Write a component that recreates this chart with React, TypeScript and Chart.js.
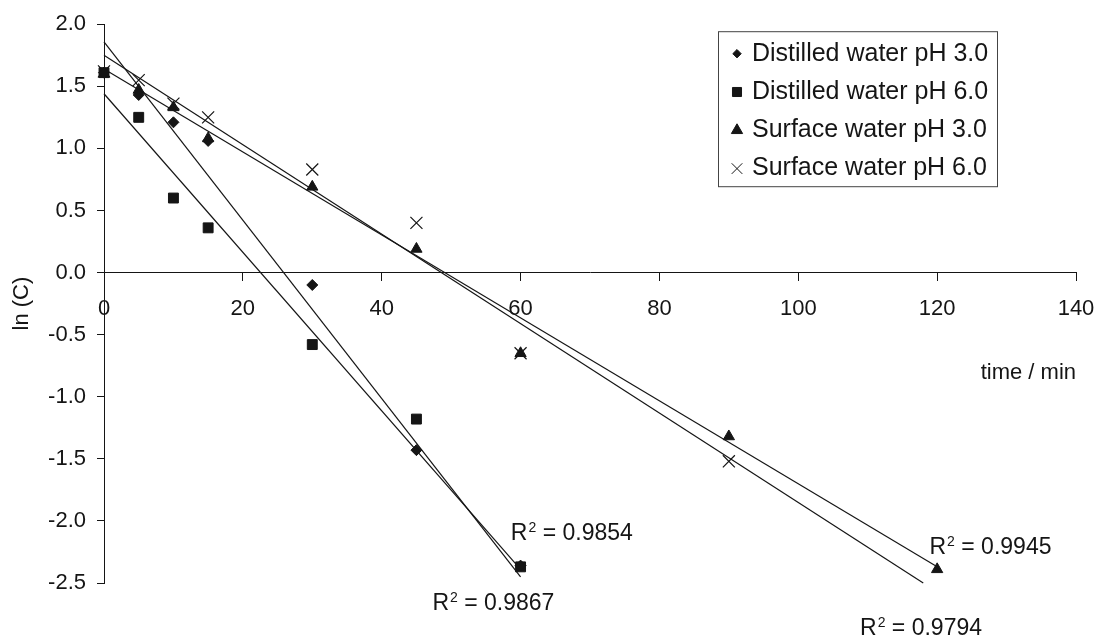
import React, { useEffect, useRef } from 'react';
import { Chart, registerables } from 'chart.js';
import type { ChartConfiguration, Plugin, PointStyle } from 'chart.js';
import { drawPoint } from 'chart.js/helpers';

Chart.register(...registerables);

const INK = '#151515';
const FONT = '"Liberation Sans", Arial, Helvetica, sans-serif';

// sampling times (min) and ln(C)
const timeMin = [0, 5, 10, 15, 30, 45, 60, 90, 120];
const distilledPh3 = [1.61, 1.43, 1.21, 1.06, -0.1, -1.43, -2.36, null, null];
const distilledPh6 = [1.61, 1.25, 0.6, 0.36, -0.58, -1.18, -2.37, null, null];
const surfacePh3 = [1.6, 1.47, 1.33, 1.08, 0.69, 0.19, -0.65, -1.32, -2.39];
const surfacePh6 = [1.62, 1.55, 1.36, 1.25, 0.83, 0.4, -0.65, -1.52, null];

const seriesNames = [
  'Distilled water pH 3.0',
  'Distilled water pH 6.0',
  'Surface water pH 3.0',
  'Surface water pH 6.0',
];
const seriesValues = [distilledPh3, distilledPh6, surfacePh3, surfacePh6];

// linear trend lines as drawn in the figure (start at t = 0)
const trendStartY = [1.857, 1.44, 1.64, 1.75];
const trendEndX = [60, 60, 120, 118];
const trendEndY = [-2.45, -2.39, -2.37, -2.5];
const rSquared = ['0.9854', '0.9867', '0.9945', '0.9794'];

// axis ranges
const xMin = 0;
const xMax = 140;
const xStep = 20;
const yMin = -2.5;
const yMax = 2.0;
const yStep = 0.5;

// marker look
const pointStyles: PointStyle[] = ['rectRot', 'rect', 'triangle', 'crossRot'];
const plotRadius = [5.5, 7, 6.5, 8.5];
const legendRadius = [4.2, 6.4, 6.5, 7.5];

// where the R² notes sit (data units, text baseline)
const noteX = [58.6, 47.3, 118.9, 108.9];
const noteY = [-2.153, -2.715, -2.263, -2.922];

const boxLegend: Plugin<'scatter'> = {
  id: 'boxLegend',
  afterDraw(chart) {
    const { ctx, chartArea } = chart;
    const left = chartArea.right - 357.5;
    const top = chartArea.top + 7.5;
    ctx.save();
    ctx.fillStyle = '#fff';
    ctx.fillRect(left, top, 279, 155);
    ctx.strokeStyle = '#444';
    ctx.lineWidth = 1;
    ctx.strokeRect(left, top, 279, 155);
    ctx.font = `25px ${FONT}`;
    ctx.textBaseline = 'middle';
    ctx.textAlign = 'left';
    seriesNames.forEach((name, i) => {
      const y = top + 22 + i * 38.3;
      ctx.fillStyle = INK;
      ctx.strokeStyle = INK;
      ctx.lineWidth = 1;
      drawPoint(ctx, { pointStyle: pointStyles[i], rotation: 0, radius: legendRadius[i], borderWidth: 1 }, left + 18.5, y);
      ctx.fillStyle = INK;
      ctx.fillText(name, left + 33.5, y);
    });
    ctx.restore();
  },
};

const r2Notes: Plugin<'scatter'> = {
  id: 'r2Notes',
  afterDatasetsDraw(chart) {
    const { ctx } = chart;
    const xs = chart.scales.x;
    const ys = chart.scales.y;
    ctx.save();
    ctx.fillStyle = INK;
    ctx.textBaseline = 'alphabetic';
    ctx.textAlign = 'left';
    rSquared.forEach((val, i) => {
      let px = xs.getPixelForValue(noteX[i]);
      const py = ys.getPixelForValue(noteY[i]);
      ctx.font = `23px ${FONT}`;
      ctx.fillText('R', px, py);
      px += ctx.measureText('R').width + 1;
      ctx.font = `14px ${FONT}`;
      ctx.fillText('2', px, py - 8);
      px += ctx.measureText('2').width;
      ctx.font = `23px ${FONT}`;
      ctx.fillText(' = ' + val, px, py);
    });
    ctx.restore();
  },
};

export default function App() {
  const canvasRef = useRef<HTMLCanvasElement>(null);
  const chartRef = useRef<Chart | null>(null);

  useEffect(() => {
    if (!canvasRef.current) return;

    const pointSets = seriesValues.map((vals, i) => ({
      label: seriesNames[i],
      data: timeMin
        .map((t, j) => ({ x: t, y: vals[j] }))
        .filter((p) => p.y !== null) as { x: number; y: number }[],
      showLine: false,
      pointStyle: pointStyles[i],
      pointRadius: plotRadius[i],
      pointBorderWidth: i === 3 ? 1.2 : 1,
      pointBackgroundColor: INK,
      pointBorderColor: INK,
      clip: false as const,
      order: 1,
    }));

    const trendSets = trendStartY.map((y0, i) => ({
      label: seriesNames[i] + ' trend',
      data: [
        { x: 0, y: y0 },
        { x: trendEndX[i], y: trendEndY[i] },
      ],
      showLine: true,
      pointRadius: 0,
      borderColor: INK,
      borderWidth: 1.2,
      fill: false,
      clip: false as const,
      order: 2,
    }));

    const config: ChartConfiguration<'scatter'> = {
      type: 'scatter',
      data: { datasets: [...pointSets, ...trendSets] },
      options: {
        responsive: true,
        maintainAspectRatio: false,
        animation: false,
        events: [],
        layout: { padding: { top: 24, right: 23, bottom: 54, left: 0 } },
        scales: {
          x: {
            type: 'linear',
            position: { y: 0 },
            min: xMin,
            max: xMax,
            afterFit: (scale) => {
              // labels may overhang the plot edges, as in the original
              scale.paddingLeft = 0;
              scale.paddingRight = 0;
            },
            grid: { drawOnChartArea: false, drawTicks: true, tickLength: 8, color: INK },
            border: { display: true, color: INK, width: 1 },
            ticks: {
              stepSize: xStep,
              padding: 15,
              color: INK,
              font: { family: FONT, size: 22 },
              maxRotation: 0,
            },
            title: {
              display: true,
              text: 'time / min',
              align: 'end',
              color: INK,
              font: { family: FONT, size: 22 },
              padding: { top: 23, bottom: 0 },
            },
          },
          y: {
            type: 'linear',
            position: 'left',
            min: yMin,
            max: yMax,
            afterFit: (scale) => {
              scale.width = 104;
            },
            grid: { drawOnChartArea: false, drawTicks: true, tickLength: 7, color: INK },
            border: { display: true, color: INK, width: 1 },
            ticks: {
              stepSize: yStep,
              padding: 11,
              color: INK,
              font: { family: FONT, size: 22 },
              callback: (v) => Number(v).toFixed(1),
            },
            title: {
              display: true,
              text: 'ln (C)',
              color: INK,
              font: { family: FONT, size: 22 },
              padding: { top: 8.5, bottom: 0 },
            },
          },
        },
        plugins: {
          legend: { display: false },
          tooltip: { enabled: false },
        },
      },
      plugins: [r2Notes, boxLegend],
    };

    chartRef.current = new Chart(canvasRef.current, config);

    return () => {
      if (chartRef.current) {
        chartRef.current.destroy();
        chartRef.current = null;
      }
    };
  }, []);

  return (
    <div style={{ position: 'absolute', left: 0, top: 0, width: 1099, height: 637, background: '#fff' }}>
      <canvas ref={canvasRef}></canvas>
    </div>
  );
}
